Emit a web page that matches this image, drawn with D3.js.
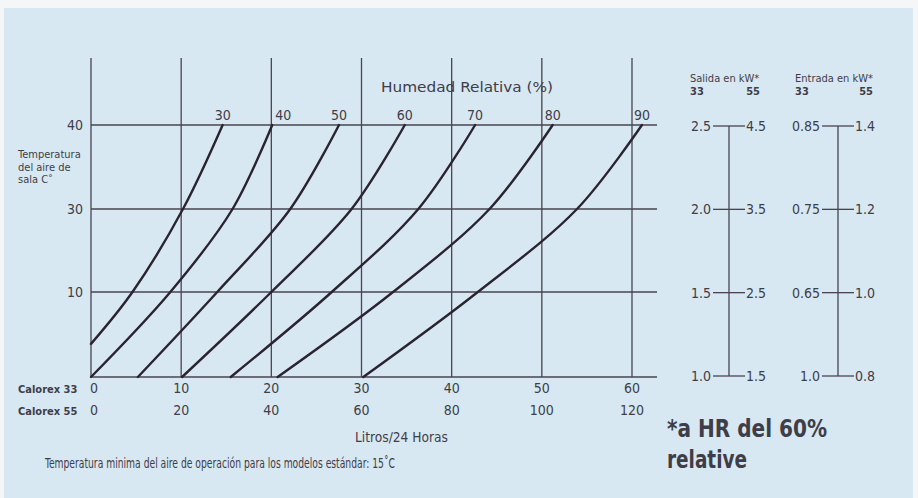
<!DOCTYPE html>
<html><head><meta charset="utf-8">
<script src="https://cdn.jsdelivr.net/npm/d3@7/dist/d3.min.js"></script>
<style>
html,body{margin:0;padding:0;background:#f4f6f7;}
svg{display:block;}
text{font-family:"DejaVu Sans Condensed","DejaVu Sans",sans-serif;font-stretch:condensed;fill:#3e3d48;}
</style></head>
<body>
<script>
// ---- data ----
const litres33Ticks = [0, 10, 20, 30, 40, 50, 60];
const litres55Labels = ["0", "20", "40", "60", "80", "100", "120"];
const tempTicks = [10, 30, 40];           // labels as printed on the chart
const humidity = [30, 40, 50, 60, 70, 80, 90];
// each curve: [litres (Calorex 33), temperature] read where it meets the grid
const curve30 = [[0, 3.9], [4.6, 10], [10.2, 30], [14.6, 40]];
const curve40 = [[0, 0], [8.8, 10], [15.7, 30], [20.1, 40]];
const curve50 = [[5.2, 0], [14.0, 10], [22.1, 30], [27.5, 40]];
const curve60 = [[10.1, 0], [20.0, 10], [28.9, 30], [34.8, 40]];
const curve70 = [[15.5, 0], [26.7, 10], [36.3, 30], [42.6, 40]];
const curve80 = [[20.7, 0], [33.5, 10], [44.2, 30], [51.2, 40]];
const curve90 = [[30.2, 0], [42.9, 10], [53.9, 30], [61.1, 40]];
const curves = [curve30, curve40, curve50, curve60, curve70, curve80, curve90];
const salida33 = ["1.0", "1.5", "2.0", "2.5"];
const salida55 = ["1.5", "2.5", "3.5", "4.5"];
const entrada33 = ["1.0", "0.65", "0.75", "0.85"];
const entrada55 = ["0.8", "1.0", "1.2", "1.4"];

// ---- layout ----
const W = 918, H = 498;
const svg = d3.select("body").append("svg").attr("width", W).attr("height", H);
svg.append("rect").attr("x", 4).attr("y", 8).attr("width", 909).attr("height", 490).attr("fill", "#d8e8f2");

const x = d3.scaleLinear().domain([0, 60]).range([91, 632]);
const y = d3.scaleLinear().domain([0, 10, 30, 40]).range([377, 292, 209, 125]);
const xEnd = 657, yTop = 58;
const gridColor = "#4a4350";

function fit(sel, w) { return sel.attr("textLength", w).attr("lengthAdjust", "spacingAndGlyphs"); }

const g = svg.append("g");
g.selectAll("line.v").data(litres33Ticks).join("line")
  .attr("x1", d => x(d)).attr("x2", d => x(d)).attr("y1", yTop).attr("y2", y(0))
  .attr("stroke", gridColor).attr("stroke-width", 1.3);
g.selectAll("line.h").data([0].concat(tempTicks)).join("line")
  .attr("x1", x(0)).attr("x2", xEnd).attr("y1", d => y(d)).attr("y2", d => y(d))
  .attr("stroke", gridColor).attr("stroke-width", 1.7);

g.selectAll("text.yl").data(tempTicks).join("text")
  .attr("x", 83).attr("y", d => y(d)).attr("dy", "0.36em").attr("text-anchor", "end")
  .attr("font-size", 14).text(d => d);
const yTitle = ["Temperatura", "del aire de", "sala C˚"];
g.selectAll("text.yt").data(yTitle).join("text")
  .attr("x", 18).attr("y", (d, i) => 158 + i * 12.5).attr("font-size", 11).text(d => d);

const line = d3.line().x(d => x(d[0])).y(d => y(d[1])).curve(d3.curveCatmullRom.alpha(0.5));
g.selectAll("path.c").data(curves).join("path")
  .attr("d", line).attr("fill", "none").attr("stroke", "#2a2430").attr("stroke-width", 2.4)
  .attr("stroke-linecap", "round");

fit(g.append("text").attr("x", 381).attr("y", 92).attr("font-size", 13.5), 172).text("Humedad Relativa (%)");
g.selectAll("text.hum").data(humidity).join("text")
  .attr("x", (d, i) => {
    const cx = x(curves[i][curves[i].length - 1][0]);
    const near = litres33Ticks.map(t => x(t)).find(gx => Math.abs(gx - cx) < 8);
    return near !== undefined ? near + 12 : cx;
  })
  .attr("y", 120).attr("text-anchor", "middle").attr("font-size", 14).text(d => d);

g.append("text").attr("x", 18).attr("y", 393).attr("font-size", 11).attr("font-weight", "bold").text("Calorex 33");
g.append("text").attr("x", 18).attr("y", 415).attr("font-size", 11).attr("font-weight", "bold").text("Calorex 55");
g.selectAll("text.x1").data(litres33Ticks).join("text")
  .attr("x", d => x(d) + (d === 0 ? 3 : 0)).attr("y", 393).attr("text-anchor", "middle")
  .attr("font-size", 14).text(d => d);
g.selectAll("text.x2").data(litres55Labels).join("text")
  .attr("x", (d, i) => x(litres33Ticks[i]) + (i === 0 ? 3 : 0)).attr("y", 415).attr("text-anchor", "middle")
  .attr("font-size", 14).text(d => d);
fit(g.append("text").attr("x", 355).attr("y", 442).attr("font-size", 14), 93).text("Litros/24 Horas");
fit(g.append("text").attr("x", 45).attr("y", 468).attr("font-size", 14), 350)
  .text("Temperatura minima del aire de operación para los modelos estándar: 15˚C");

const ks = d3.scaleLinear().domain([0, 3]).range([376, 126]);
function scaleBlock(cx, leftLabels, rightLabels, title, hx0, hx1) {
  const s = svg.append("g");
  s.append("line").attr("x1", cx).attr("x2", cx).attr("y1", ks(3)).attr("y2", ks(0))
    .attr("stroke", gridColor).attr("stroke-width", 1.3);
  s.selectAll("line.t").data(leftLabels).join("line")
    .attr("x1", cx - 16).attr("x2", cx + 16).attr("y1", (d, i) => ks(i)).attr("y2", (d, i) => ks(i))
    .attr("stroke", gridColor).attr("stroke-width", 1.3);
  s.selectAll("text.l").data(leftLabels).join("text")
    .attr("x", cx - 18).attr("y", (d, i) => ks(i)).attr("dy", "0.36em").attr("text-anchor", "end")
    .attr("font-size", 14).text(d => d);
  s.selectAll("text.r").data(rightLabels).join("text")
    .attr("x", cx + 17).attr("y", (d, i) => ks(i)).attr("dy", "0.36em")
    .attr("font-size", 14).text(d => d);
  s.append("text").attr("x", hx0).attr("y", 82).attr("font-size", 11).text(title);
  s.append("text").attr("x", hx0).attr("y", 95).attr("font-size", 11).attr("font-weight", "bold").text("33");
  s.append("text").attr("x", hx1).attr("y", 95).attr("font-size", 11).attr("font-weight", "bold")
    .attr("text-anchor", "end").text("55");
}
scaleBlock(729, salida33, salida55, "Salida en kW*", 690, 760);
scaleBlock(838, entrada33, entrada55, "Entrada en kW*", 795, 873);

fit(svg.append("text").attr("x", 667).attr("y", 437).attr("font-size", 25).attr("font-weight", "bold")
  .attr("fill", "#2e2b36"), 160).text("*a HR del 60%");
fit(svg.append("text").attr("x", 667).attr("y", 468).attr("font-size", 25).attr("font-weight", "bold")
  .attr("fill", "#2e2b36"), 80).text("relative");
</script>
</body></html>
